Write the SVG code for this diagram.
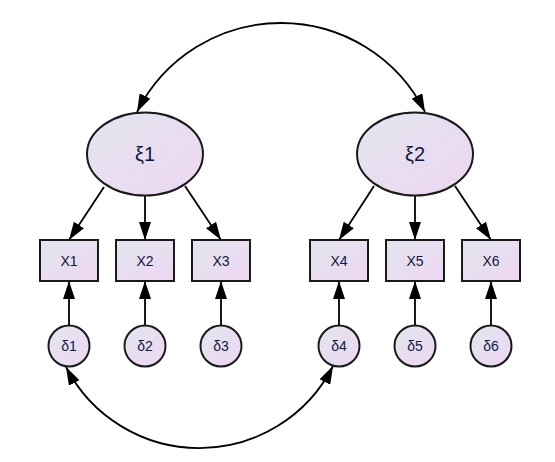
<svg xmlns="http://www.w3.org/2000/svg" width="555" height="462" viewBox="0 0 555 462">
<defs>
<linearGradient id="g" x1="0" y1="0" x2="1" y2="1">
<stop offset="0" stop-color="#e2e6ee"/>
<stop offset="1" stop-color="#eed6f2"/>
</linearGradient>
<marker id="ah" viewBox="0 0 18 12" refX="18" refY="6" markerWidth="18" markerHeight="12" markerUnits="userSpaceOnUse" orient="auto-start-reverse">
<path d="M0,0 L18,6 L0,12 Z" fill="#000"/>
</marker>
</defs>
<style>
.n{fill:url(#g);stroke:#1a1a1a;stroke-width:2}
.t{font-family:"Liberation Sans",Arial,sans-serif;font-size:14px;fill:#0d1a40;text-anchor:middle}
.big{font-size:20px}
.c{fill:none;stroke:#000;stroke-width:1.8}
</style>
<rect width="555" height="462" fill="#fff"/>
<g id="connectors">
<path class="c" d="M137,112 A161,161 0 0,1 425,112" marker-start="url(#ah)" marker-end="url(#ah)"/>
<path class="c" d="M66,367 A150,150 0 0,0 333,366" marker-start="url(#ah)" marker-end="url(#ah)"/>
<line class="c" x1="104" y1="187" x2="69" y2="240" marker-end="url(#ah)"/>
<line class="c" x1="145" y1="196" x2="145" y2="240" marker-end="url(#ah)"/>
<line class="c" x1="185" y1="186" x2="221" y2="240" marker-end="url(#ah)"/>
<line class="c" x1="374" y1="186" x2="339" y2="240" marker-end="url(#ah)"/>
<line class="c" x1="415" y1="196" x2="415" y2="240" marker-end="url(#ah)"/>
<line class="c" x1="455" y1="186" x2="491" y2="240" marker-end="url(#ah)"/>
<line class="c" x1="69" y1="325" x2="69" y2="281" marker-end="url(#ah)"/>
<line class="c" x1="145" y1="325" x2="145" y2="281" marker-end="url(#ah)"/>
<line class="c" x1="221" y1="325" x2="221" y2="281" marker-end="url(#ah)"/>
<line class="c" x1="339" y1="325" x2="339" y2="281" marker-end="url(#ah)"/>
<line class="c" x1="415" y1="325" x2="415" y2="281" marker-end="url(#ah)"/>
<line class="c" x1="491" y1="325" x2="491" y2="281" marker-end="url(#ah)"/>
</g>
<g id="xi1"><ellipse class="n" cx="145" cy="154" rx="58" ry="41.5"/><text class="t big" x="145" y="161">ξ1</text></g>
<g id="xi2"><ellipse class="n" cx="415" cy="154" rx="58" ry="41.5"/><text class="t big" x="415" y="161">ξ2</text></g>
<g id="X1"><rect class="n" x="40" y="240" width="58" height="41"/><text class="t" x="69" y="266">X1</text></g>
<g id="X2"><rect class="n" x="116" y="240" width="58" height="41"/><text class="t" x="145" y="266">X2</text></g>
<g id="X3"><rect class="n" x="192" y="240" width="58" height="41"/><text class="t" x="221" y="266">X3</text></g>
<g id="X4"><rect class="n" x="310" y="240" width="58" height="41"/><text class="t" x="339" y="266">X4</text></g>
<g id="X5"><rect class="n" x="386" y="240" width="58" height="41"/><text class="t" x="415" y="266">X5</text></g>
<g id="X6"><rect class="n" x="462" y="240" width="58" height="41"/><text class="t" x="491" y="266">X6</text></g>
<g id="d1"><circle class="n" cx="69" cy="346" r="20.5"/><text class="t" x="69" y="351">δ1</text></g>
<g id="d2"><circle class="n" cx="145" cy="346" r="20.5"/><text class="t" x="145" y="351">δ2</text></g>
<g id="d3"><circle class="n" cx="221" cy="346" r="20.5"/><text class="t" x="221" y="351">δ3</text></g>
<g id="d4"><circle class="n" cx="339" cy="346" r="20.5"/><text class="t" x="339" y="351">δ4</text></g>
<g id="d5"><circle class="n" cx="415" cy="346" r="20.5"/><text class="t" x="415" y="351">δ5</text></g>
<g id="d6"><circle class="n" cx="491" cy="346" r="20.5"/><text class="t" x="491" y="351">δ6</text></g>
</svg>
